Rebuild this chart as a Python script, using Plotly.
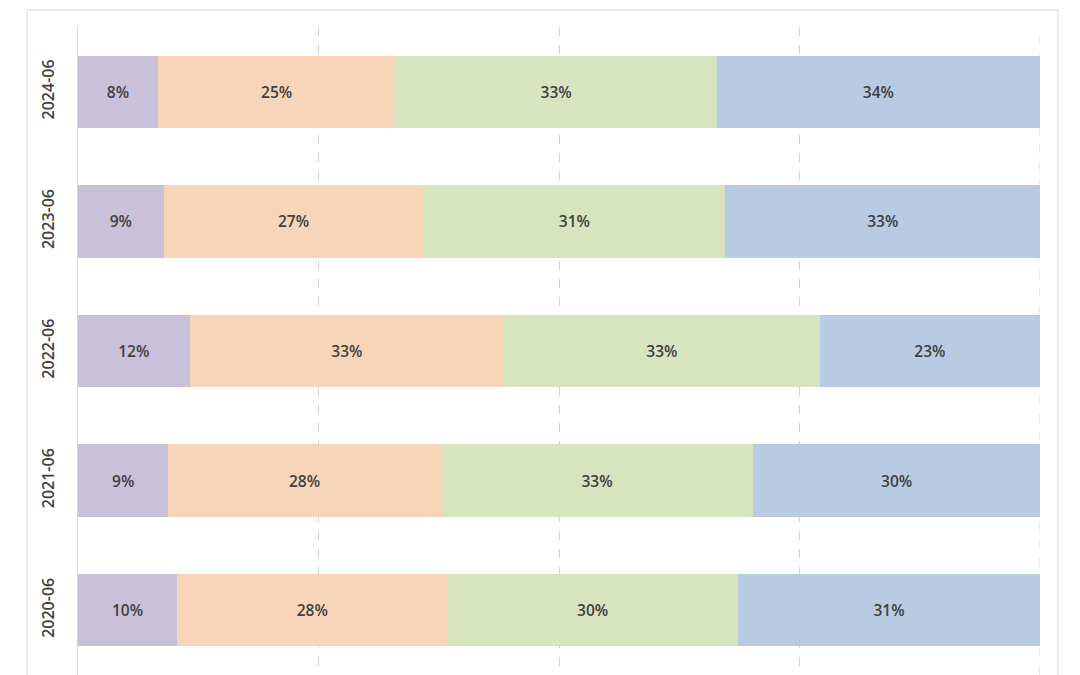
import plotly.graph_objects as go

categories = ["2020-06", "2021-06", "2022-06", "2023-06", "2024-06"]
seg1 = [10.3, 9.4, 11.6, 8.9, 8.3]
seg2 = [28.1, 28.3, 32.7, 27.0, 24.7]
seg3 = [30.2, 32.5, 32.8, 31.4, 33.4]
seg4 = [31.4, 29.8, 22.9, 32.7, 33.6]
colors = ["#c9c0da", "#f7d5b8", "#d8e3bf", "#b9cbe3"]

# page body has an 8px default margin; compensate
OFF = 8
W, H = 1080 - OFF, 675 - OFF
L, R, T, B = 78 - OFF, 40, 27 - OFF, 0
PW = W - L - R
PH = H - T - B

fig = go.Figure()
for vals, col in zip([seg1, seg2, seg3, seg4], colors):
    fig.add_trace(go.Bar(
        y=categories, x=vals, orientation="h",
        marker=dict(color=col, line=dict(width=0)),
        texttemplate="%{x:.0f}%", textposition="inside", insidetextanchor="middle",
        textfont=dict(family="Open Sans", size=15.5, color="#404040", weight=600),
        showlegend=False,
    ))

fig.update_layout(
    barmode="stack",
    bargap=0.44,
    width=W, height=H,
    margin=dict(l=L, r=R, t=T, b=B),
    paper_bgcolor="white", plot_bgcolor="white",
    xaxis=dict(range=[0, 100], dtick=25, showgrid=True, gridcolor="#d0d0d0",
               griddash="dash", gridwidth=1, showticklabels=False, zeroline=False,
               showline=False),
    yaxis=dict(type="category", range=[-0.5, 4.5], showline=True, linecolor="#d9d9d9",
               linewidth=1, tickangle=-90, ticks="", ticklen=0, ticklabelstandoff=17,
               tickfont=dict(family="Open Sans", size=16, color="#404040", weight=600)),
    shapes=[
        dict(type="rect", xref="paper", yref="paper",
             x0=(27 - 78) / PW, x1=(1058 - 78) / PW,
             y0=-0.1, y1=1 + (27 - 10) / PH,
             line=dict(color="#d9d9d9", width=1), fillcolor="rgba(0,0,0,0)",
             layer="below"),
        dict(type="line", xref="x", yref="paper", x0=100, x1=100, y0=0, y1=1,
             line=dict(color="#d0d0d0", width=1, dash="dash"), layer="below"),
    ],
)
fig.write_html("out.html")
